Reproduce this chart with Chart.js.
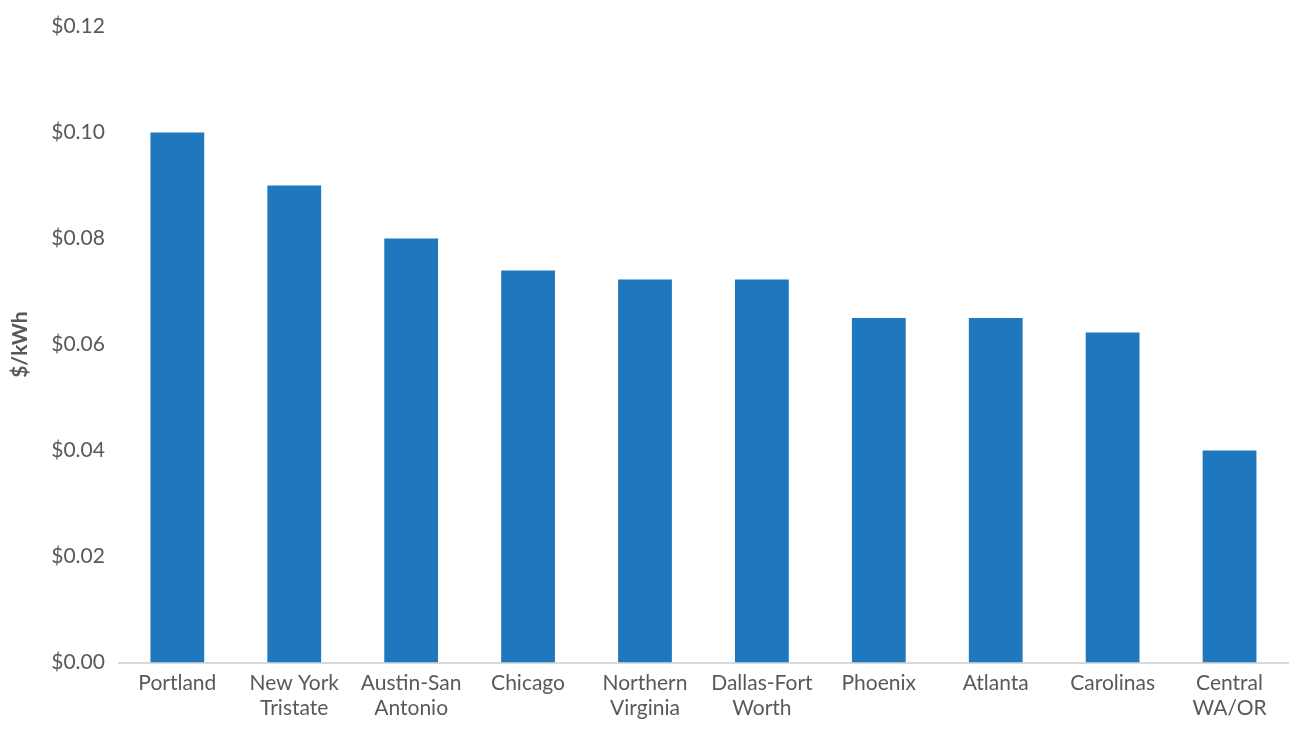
<!DOCTYPE html>
<html>
<head>
<meta charset="utf-8">
<script src="https://cdn.jsdelivr.net/npm/chart.js@4"></script>
<style>
  html, body { margin: 0; padding: 0; background: #fff; }
  #wrap { width: 1302px; height: 733px; }
</style>
</head>
<body>
<div id="wrap"><canvas id="chart"></canvas></div>
<script>
const categories = [
  ["Portland"], ["New York", "Tristate"], ["Austin-San", "Antonio"], ["Chicago"],
  ["Northern", "Virginia"], ["Dallas-Fort", "Worth"], ["Phoenix"], ["Atlanta"],
  ["Carolinas"], ["Central", "WA/OR"]
];
const prices = [0.100, 0.090, 0.080, 0.074, 0.0723, 0.0723, 0.065, 0.065, 0.0623, 0.040];

new Chart(document.getElementById("chart"), {
  type: "bar",
  data: {
    labels: categories,
    datasets: [{
      data: prices,
      backgroundColor: "#1f77bd",
      categoryPercentage: 1,
      barPercentage: 0.46,
    }],
  },
  options: {
    responsive: true,
    maintainAspectRatio: false,
    animation: false,
    layout: { padding: { top: 12, right: 14, left: 4, bottom: 4 } },
    plugins: { legend: { display: false }, tooltip: { enabled: false } },
    scales: {
      x: {
        grid: { display: false, drawTicks: false },
        border: { color: "#d9d9d9", width: 2 },
        ticks: {
          color: "#595959", font: { family: "Lato", size: 21 },
          maxRotation: 0, autoSkip: false, padding: 8,
        },
      },
      y: {
        min: 0, max: 0.12,
        grid: { display: false, drawTicks: false },
        border: { display: false },
        title: {
          display: true, text: "$/kWh", color: "#595959",
          font: { family: "Lato", size: 21, weight: "bold" },
        },
        ticks: {
          stepSize: 0.02, color: "#595959", padding: 14,
          font: { family: "Lato", size: 21 },
          callback: (v) => "$" + v.toFixed(2),
        },
      },
    },
  },
});
</script>
</body>
</html>
